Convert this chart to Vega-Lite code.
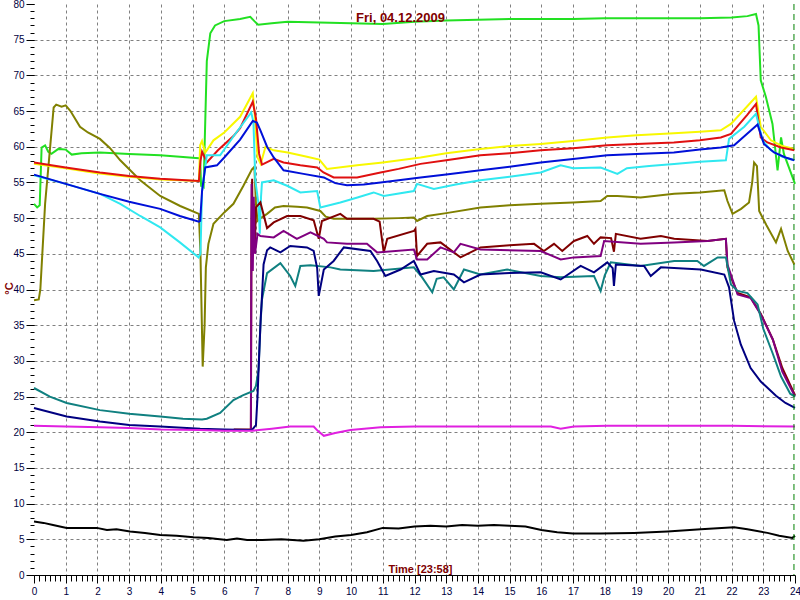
{
"$schema": "https://vega.github.io/schema/vega-lite/v6.json",
"width": 761, "height": 571,
"autosize": "none",
"padding": {"left": 34, "top": 4, "right": 5, "bottom": 25},
"background": "white",
"config": {"view": {"stroke": null}, "axis": {"labelFont": "Liberation Sans", "titleFont": "Liberation Sans"}},
"title": {"text": "Fri, 04.12.2009", "color": "#800000", "font": "Liberation Sans", "fontSize": 13, "fontWeight": "bold", "anchor": "middle", "frame": "group", "offset": -18, "baseline": "alphabetic", "dx": -14, "dy": 18},
"datasets": {"temps": [
{"s":"green","t":0,"v":52.0},{"s":"green","t":0.1,"v":51.5},{"s":"green","t":0.18,"v":51.8},{"s":"green","t":0.24,"v":59.9},{"s":"green","t":0.35,"v":60.2},{"s":"green","t":0.45,"v":59.3},{"s":"green","t":0.55,"v":59.0},{"s":"green","t":0.77,"v":59.7},{"s":"green","t":1.0,"v":59.6},{"s":"green","t":1.19,"v":58.9},{"s":"green","t":1.5,"v":59.1},{"s":"green","t":2.08,"v":59.2},{"s":"green","t":3.0,"v":59.0},{"s":"green","t":3.98,"v":58.8},{"s":"green","t":4.6,"v":58.6},{"s":"green","t":5.2,"v":58.4},{"s":"green","t":5.24,"v":58.3},{"s":"green","t":5.27,"v":54.5},{"s":"green","t":5.35,"v":54.3},{"s":"green","t":5.38,"v":60},{"s":"green","t":5.45,"v":72},{"s":"green","t":5.56,"v":75.9},{"s":"green","t":5.71,"v":77.0},{"s":"green","t":6.0,"v":77.6},{"s":"green","t":6.5,"v":77.9},{"s":"green","t":6.82,"v":78.2},{"s":"green","t":6.95,"v":77.6},{"s":"green","t":7.07,"v":77.1},{"s":"green","t":7.5,"v":77.3},{"s":"green","t":8.0,"v":77.5},{"s":"green","t":9.0,"v":77.4},{"s":"green","t":10.0,"v":77.3},{"s":"green","t":11.0,"v":77.2},{"s":"green","t":12.0,"v":77.5},{"s":"green","t":13.0,"v":77.7},{"s":"green","t":14.0,"v":77.8},{"s":"green","t":15.0,"v":77.9},{"s":"green","t":16.0,"v":77.9},{"s":"green","t":17.0,"v":77.9},{"s":"green","t":18.0,"v":78.0},{"s":"green","t":19.0,"v":78.0},{"s":"green","t":20.0,"v":78.0},{"s":"green","t":21.0,"v":78.0},{"s":"green","t":22.0,"v":78.1},{"s":"green","t":22.5,"v":78.3},{"s":"green","t":22.77,"v":78.6},{"s":"green","t":22.85,"v":77},{"s":"green","t":22.92,"v":69.3},{"s":"green","t":23.08,"v":67},{"s":"green","t":23.29,"v":63.2},{"s":"green","t":23.45,"v":56.7},{"s":"green","t":23.56,"v":61.3},{"s":"green","t":23.65,"v":59},{"s":"green","t":24.0,"v":54.8},
{"s":"olive","t":0,"v":38.5},{"s":"olive","t":0.15,"v":38.6},{"s":"olive","t":0.2,"v":40},{"s":"olive","t":0.35,"v":52},{"s":"olive","t":0.5,"v":59.5},{"s":"olive","t":0.62,"v":65.5},{"s":"olive","t":0.7,"v":65.9},{"s":"olive","t":0.87,"v":65.6},{"s":"olive","t":1.0,"v":65.8},{"s":"olive","t":1.15,"v":65},{"s":"olive","t":1.45,"v":62.8},{"s":"olive","t":1.7,"v":62},{"s":"olive","t":2.08,"v":61.1},{"s":"olive","t":2.4,"v":59.8},{"s":"olive","t":2.72,"v":58.1},{"s":"olive","t":3.35,"v":55.3},{"s":"olive","t":3.98,"v":53.1},{"s":"olive","t":4.61,"v":51.7},{"s":"olive","t":5.2,"v":50.6},{"s":"olive","t":5.25,"v":45},{"s":"olive","t":5.32,"v":29.2},{"s":"olive","t":5.38,"v":35},{"s":"olive","t":5.42,"v":43.1},{"s":"olive","t":5.5,"v":46.4},{"s":"olive","t":5.66,"v":49.2},{"s":"olive","t":6.0,"v":50.8},{"s":"olive","t":6.29,"v":52.0},{"s":"olive","t":6.6,"v":54.5},{"s":"olive","t":6.87,"v":56.8},{"s":"olive","t":6.95,"v":57.2},{"s":"olive","t":7.0,"v":52},{"s":"olive","t":7.05,"v":49.6},{"s":"olive","t":7.15,"v":50},{"s":"olive","t":7.35,"v":50.6},{"s":"olive","t":7.6,"v":51.5},{"s":"olive","t":7.87,"v":51.7},{"s":"olive","t":8.3,"v":51.6},{"s":"olive","t":8.61,"v":51.5},{"s":"olive","t":9.03,"v":51.0},{"s":"olive","t":9.2,"v":50.2},{"s":"olive","t":9.45,"v":49.9},{"s":"olive","t":10.0,"v":49.9},{"s":"olive","t":10.71,"v":49.9},{"s":"olive","t":11.5,"v":50.0},{"s":"olive","t":11.98,"v":50.1},{"s":"olive","t":12.08,"v":49.6},{"s":"olive","t":12.4,"v":50.3},{"s":"olive","t":13.0,"v":50.7},{"s":"olive","t":14.08,"v":51.5},{"s":"olive","t":15.0,"v":51.8},{"s":"olive","t":15.98,"v":52.0},{"s":"olive","t":17.0,"v":52.2},{"s":"olive","t":17.87,"v":52.4},{"s":"olive","t":18.08,"v":53.1},{"s":"olive","t":18.4,"v":53.1},{"s":"olive","t":19.13,"v":52.9},{"s":"olive","t":20.19,"v":53.4},{"s":"olive","t":21.0,"v":53.6},{"s":"olive","t":21.77,"v":53.9},{"s":"olive","t":21.87,"v":52.4},{"s":"olive","t":22.03,"v":50.6},{"s":"olive","t":22.3,"v":51.3},{"s":"olive","t":22.55,"v":52.2},{"s":"olive","t":22.65,"v":55},{"s":"olive","t":22.71,"v":57.8},{"s":"olive","t":22.8,"v":57.3},{"s":"olive","t":22.87,"v":51.0},{"s":"olive","t":23.1,"v":49},{"s":"olive","t":23.4,"v":46.6},{"s":"olive","t":23.56,"v":48.5},{"s":"olive","t":23.77,"v":45.4},{"s":"olive","t":23.98,"v":43.5},
{"s":"yellow","t":0,"v":57.6},{"s":"yellow","t":1,"v":57.0},{"s":"yellow","t":2,"v":56.3},{"s":"yellow","t":3,"v":55.8},{"s":"yellow","t":4,"v":55.4},{"s":"yellow","t":5.2,"v":55.2},{"s":"yellow","t":5.24,"v":60.2},{"s":"yellow","t":5.3,"v":60.8},{"s":"yellow","t":5.4,"v":59.2},{"s":"yellow","t":5.45,"v":59.5},{"s":"yellow","t":5.66,"v":60.9},{"s":"yellow","t":6.0,"v":62.0},{"s":"yellow","t":6.5,"v":64.2},{"s":"yellow","t":6.9,"v":67.5},{"s":"yellow","t":6.97,"v":64},{"s":"yellow","t":7.05,"v":58.5},{"s":"yellow","t":7.15,"v":57.6},{"s":"yellow","t":7.3,"v":60},{"s":"yellow","t":7.56,"v":59.5},{"s":"yellow","t":8.0,"v":59.2},{"s":"yellow","t":8.61,"v":58.6},{"s":"yellow","t":9.0,"v":58.2},{"s":"yellow","t":9.24,"v":56.9},{"s":"yellow","t":10.19,"v":57.4},{"s":"yellow","t":11.0,"v":57.8},{"s":"yellow","t":12.19,"v":58.5},{"s":"yellow","t":13.0,"v":59.1},{"s":"yellow","t":14.08,"v":59.7},{"s":"yellow","t":15.0,"v":60.1},{"s":"yellow","t":15.98,"v":60.4},{"s":"yellow","t":17.0,"v":60.8},{"s":"yellow","t":18.08,"v":61.3},{"s":"yellow","t":19.0,"v":61.6},{"s":"yellow","t":20.18,"v":61.9},{"s":"yellow","t":21.0,"v":62.1},{"s":"yellow","t":21.66,"v":62.3},{"s":"yellow","t":21.98,"v":63.2},{"s":"yellow","t":22.77,"v":67.0},{"s":"yellow","t":22.92,"v":62.8},{"s":"yellow","t":23.24,"v":60.9},{"s":"yellow","t":23.6,"v":60.1},{"s":"yellow","t":23.98,"v":59.7},
{"s":"red","t":0,"v":57.8},{"s":"red","t":1,"v":57.1},{"s":"red","t":2.08,"v":56.4},{"s":"red","t":3,"v":55.9},{"s":"red","t":3.98,"v":55.5},{"s":"red","t":5.2,"v":55.2},{"s":"red","t":5.25,"v":58},{"s":"red","t":5.3,"v":59.3},{"s":"red","t":5.38,"v":58.5},{"s":"red","t":5.45,"v":57.8},{"s":"red","t":5.8,"v":59.5},{"s":"red","t":6.29,"v":61.5},{"s":"red","t":6.5,"v":62.6},{"s":"red","t":6.9,"v":66.3},{"s":"red","t":7.0,"v":64},{"s":"red","t":7.1,"v":59},{"s":"red","t":7.19,"v":57.5},{"s":"red","t":7.24,"v":57.6},{"s":"red","t":7.56,"v":58.3},{"s":"red","t":7.87,"v":57.8},{"s":"red","t":8.4,"v":57.4},{"s":"red","t":8.93,"v":57.1},{"s":"red","t":9.13,"v":56.4},{"s":"red","t":9.45,"v":55.7},{"s":"red","t":10.19,"v":55.7},{"s":"red","t":10.93,"v":56.4},{"s":"red","t":11.5,"v":56.9},{"s":"red","t":12.19,"v":57.6},{"s":"red","t":13.0,"v":58.1},{"s":"red","t":14.08,"v":58.8},{"s":"red","t":15.0,"v":59.1},{"s":"red","t":15.98,"v":59.5},{"s":"red","t":17.0,"v":59.8},{"s":"red","t":18.08,"v":60.2},{"s":"red","t":19.0,"v":60.4},{"s":"red","t":20.18,"v":60.6},{"s":"red","t":21.0,"v":60.9},{"s":"red","t":21.66,"v":61.3},{"s":"red","t":21.98,"v":61.8},{"s":"red","t":22.5,"v":64.5},{"s":"red","t":22.77,"v":66.0},{"s":"red","t":22.92,"v":61.3},{"s":"red","t":23.13,"v":60.6},{"s":"red","t":23.56,"v":59.9},{"s":"red","t":23.98,"v":59.5},
{"s":"cyan","t":0,"v":56.0},{"s":"cyan","t":1,"v":54.8},{"s":"cyan","t":2.08,"v":53.4},{"s":"cyan","t":2.72,"v":52.0},{"s":"cyan","t":3.35,"v":50.3},{"s":"cyan","t":3.98,"v":48.7},{"s":"cyan","t":4.6,"v":46.6},{"s":"cyan","t":5.19,"v":44.5},{"s":"cyan","t":5.25,"v":45},{"s":"cyan","t":5.3,"v":53.8},{"s":"cyan","t":5.45,"v":58.8},{"s":"cyan","t":5.87,"v":58.8},{"s":"cyan","t":6.3,"v":61.5},{"s":"cyan","t":6.85,"v":64.8},{"s":"cyan","t":6.92,"v":63.5},{"s":"cyan","t":6.98,"v":55.3},{"s":"cyan","t":7.08,"v":52},{"s":"cyan","t":7.12,"v":47.8},{"s":"cyan","t":7.16,"v":53},{"s":"cyan","t":7.19,"v":55.0},{"s":"cyan","t":7.56,"v":55.3},{"s":"cyan","t":8.0,"v":54.5},{"s":"cyan","t":8.4,"v":53.6},{"s":"cyan","t":8.93,"v":53.8},{"s":"cyan","t":9.03,"v":51.5},{"s":"cyan","t":9.66,"v":52.2},{"s":"cyan","t":10.2,"v":52.9},{"s":"cyan","t":10.71,"v":53.6},{"s":"cyan","t":11.03,"v":53.1},{"s":"cyan","t":11.98,"v":53.8},{"s":"cyan","t":12.08,"v":54.8},{"s":"cyan","t":12.61,"v":54.1},{"s":"cyan","t":13.3,"v":54.7},{"s":"cyan","t":14.08,"v":55.3},{"s":"cyan","t":15.0,"v":55.8},{"s":"cyan","t":15.98,"v":56.4},{"s":"cyan","t":16.61,"v":57.4},{"s":"cyan","t":17.0,"v":57.0},{"s":"cyan","t":17.87,"v":57.1},{"s":"cyan","t":18.4,"v":56.2},{"s":"cyan","t":18.7,"v":57},{"s":"cyan","t":19.4,"v":57.3},{"s":"cyan","t":20.19,"v":57.6},{"s":"cyan","t":21.0,"v":57.9},{"s":"cyan","t":21.82,"v":58.1},{"s":"cyan","t":21.92,"v":61.1},{"s":"cyan","t":22.4,"v":62.8},{"s":"cyan","t":22.77,"v":64.6},{"s":"cyan","t":22.98,"v":60.9},{"s":"cyan","t":23.24,"v":59.5},{"s":"cyan","t":23.6,"v":58.6},{"s":"cyan","t":23.98,"v":58.1},
{"s":"blue","t":0,"v":56.1},{"s":"blue","t":1,"v":54.8},{"s":"blue","t":2.08,"v":53.4},{"s":"blue","t":3,"v":52.3},{"s":"blue","t":3.98,"v":51.3},{"s":"blue","t":4.6,"v":50.3},{"s":"blue","t":5.2,"v":49.5},{"s":"blue","t":5.24,"v":49.6},{"s":"blue","t":5.3,"v":53.8},{"s":"blue","t":5.4,"v":57.1},{"s":"blue","t":5.77,"v":57.4},{"s":"blue","t":6.0,"v":58.5},{"s":"blue","t":6.5,"v":61},{"s":"blue","t":6.9,"v":63.6},{"s":"blue","t":7.03,"v":63.4},{"s":"blue","t":7.14,"v":62.3},{"s":"blue","t":7.35,"v":60},{"s":"blue","t":7.56,"v":58.5},{"s":"blue","t":7.87,"v":56.7},{"s":"blue","t":8.5,"v":56.2},{"s":"blue","t":9.14,"v":55.7},{"s":"blue","t":9.5,"v":54.9},{"s":"blue","t":9.87,"v":54.6},{"s":"blue","t":10.4,"v":54.7},{"s":"blue","t":10.93,"v":55.0},{"s":"blue","t":11.5,"v":55.3},{"s":"blue","t":12.19,"v":55.7},{"s":"blue","t":13.0,"v":56.1},{"s":"blue","t":14.08,"v":56.7},{"s":"blue","t":15.0,"v":57.2},{"s":"blue","t":15.98,"v":57.8},{"s":"blue","t":17.0,"v":58.3},{"s":"blue","t":18.08,"v":58.8},{"s":"blue","t":19.0,"v":59.0},{"s":"blue","t":20.18,"v":59.2},{"s":"blue","t":21.0,"v":59.6},{"s":"blue","t":21.66,"v":59.9},{"s":"blue","t":22.08,"v":60.2},{"s":"blue","t":22.82,"v":63.1},{"s":"blue","t":23.02,"v":60.4},{"s":"blue","t":23.34,"v":59.2},{"s":"blue","t":23.7,"v":58.5},{"s":"blue","t":23.98,"v":58.1},
{"s":"maroon","t":6.3,"v":20.4},{"s":"maroon","t":6.84,"v":20.4},{"s":"maroon","t":6.86,"v":50},{"s":"maroon","t":6.88,"v":55.5},{"s":"maroon","t":6.9,"v":45.4},{"s":"maroon","t":6.93,"v":52},{"s":"maroon","t":6.96,"v":45.5},{"s":"maroon","t":7.0,"v":51.5},{"s":"maroon","t":7.14,"v":52.2},{"s":"maroon","t":7.35,"v":48.6},{"s":"maroon","t":7.56,"v":49.4},{"s":"maroon","t":7.98,"v":50.3},{"s":"maroon","t":8.4,"v":50.3},{"s":"maroon","t":8.82,"v":49.7},{"s":"maroon","t":8.98,"v":47.1},{"s":"maroon","t":9.08,"v":49.6},{"s":"maroon","t":9.66,"v":50.6},{"s":"maroon","t":9.87,"v":49.9},{"s":"maroon","t":10.71,"v":49.9},{"s":"maroon","t":10.9,"v":49.5},{"s":"maroon","t":11.03,"v":45.2},{"s":"maroon","t":11.14,"v":47.1},{"s":"maroon","t":11.98,"v":48.2},{"s":"maroon","t":12.03,"v":48.5},{"s":"maroon","t":12.08,"v":44.7},{"s":"maroon","t":12.4,"v":46.4},{"s":"maroon","t":12.82,"v":46.6},{"s":"maroon","t":13.45,"v":44.5},{"s":"maroon","t":14.08,"v":45.9},{"s":"maroon","t":15.0,"v":46.2},{"s":"maroon","t":15.77,"v":46.4},{"s":"maroon","t":16.08,"v":45.4},{"s":"maroon","t":16.4,"v":46.4},{"s":"maroon","t":16.66,"v":45.4},{"s":"maroon","t":17.03,"v":46.8},{"s":"maroon","t":17.45,"v":47.5},{"s":"maroon","t":17.66,"v":46.4},{"s":"maroon","t":17.87,"v":47.3},{"s":"maroon","t":18.2,"v":47.2},{"s":"maroon","t":18.29,"v":45.3},{"s":"maroon","t":18.35,"v":47.8},{"s":"maroon","t":19.13,"v":47.1},{"s":"maroon","t":19.77,"v":47.5},{"s":"maroon","t":20.19,"v":47.1},{"s":"maroon","t":21.24,"v":46.8},{"s":"maroon","t":21.82,"v":47.1},{"s":"maroon","t":21.87,"v":43.1},{"s":"maroon","t":21.98,"v":41.7},{"s":"maroon","t":22.19,"v":39.5},{"s":"maroon","t":22.6,"v":38.9},{"s":"maroon","t":22.92,"v":36.6},{"s":"maroon","t":23.3,"v":33},{"s":"maroon","t":23.6,"v":29},{"s":"maroon","t":24.0,"v":25.2},
{"s":"purple","t":6.84,"v":20.4},{"s":"purple","t":6.86,"v":54.8},{"s":"purple","t":6.9,"v":42.6},{"s":"purple","t":6.93,"v":53},{"s":"purple","t":6.97,"v":45},{"s":"purple","t":7.05,"v":47.8},{"s":"purple","t":7.14,"v":47.5},{"s":"purple","t":7.56,"v":47.3},{"s":"purple","t":7.87,"v":48.2},{"s":"purple","t":8.29,"v":47.1},{"s":"purple","t":8.72,"v":48.0},{"s":"purple","t":9.14,"v":47.1},{"s":"purple","t":9.24,"v":46.6},{"s":"purple","t":9.87,"v":46.4},{"s":"purple","t":10.5,"v":46.4},{"s":"purple","t":10.82,"v":45.2},{"s":"purple","t":11.98,"v":45.6},{"s":"purple","t":12.08,"v":44.2},{"s":"purple","t":12.4,"v":44.2},{"s":"purple","t":12.82,"v":45.9},{"s":"purple","t":13.24,"v":45.2},{"s":"purple","t":13.45,"v":46.4},{"s":"purple","t":14.08,"v":45.6},{"s":"purple","t":15.98,"v":45.4},{"s":"purple","t":16.61,"v":44.2},{"s":"purple","t":17.03,"v":44.5},{"s":"purple","t":17.87,"v":44.7},{"s":"purple","t":17.98,"v":46.8},{"s":"purple","t":19.13,"v":46.4},{"s":"purple","t":20.19,"v":46.6},{"s":"purple","t":21.24,"v":46.8},{"s":"purple","t":21.82,"v":47.1},{"s":"purple","t":21.87,"v":43.5},{"s":"purple","t":22.19,"v":39.3},{"s":"purple","t":22.6,"v":38.8},{"s":"purple","t":22.92,"v":36.5},{"s":"purple","t":23.3,"v":33},{"s":"purple","t":23.6,"v":28.5},{"s":"purple","t":24.0,"v":25},
{"s":"teal","t":0,"v":26.2},{"s":"teal","t":0.5,"v":25.0},{"s":"teal","t":1.03,"v":24.1},{"s":"teal","t":2.08,"v":23.1},{"s":"teal","t":3.0,"v":22.6},{"s":"teal","t":3.98,"v":22.2},{"s":"teal","t":4.7,"v":21.9},{"s":"teal","t":5.3,"v":21.8},{"s":"teal","t":5.45,"v":21.9},{"s":"teal","t":5.87,"v":22.7},{"s":"teal","t":6.29,"v":24.5},{"s":"teal","t":6.6,"v":25.2},{"s":"teal","t":6.92,"v":25.8},{"s":"teal","t":7.0,"v":26.5},{"s":"teal","t":7.08,"v":28.7},{"s":"teal","t":7.14,"v":35},{"s":"teal","t":7.19,"v":38.6},{"s":"teal","t":7.35,"v":42.3},{"s":"teal","t":7.77,"v":43.7},{"s":"teal","t":8.08,"v":41.9},{"s":"teal","t":8.24,"v":40.5},{"s":"teal","t":8.4,"v":43.3},{"s":"teal","t":8.72,"v":43.4},{"s":"teal","t":9.35,"v":43.1},{"s":"teal","t":9.66,"v":42.8},{"s":"teal","t":10.71,"v":42.6},{"s":"teal","t":11.98,"v":43.1},{"s":"teal","t":12.24,"v":41.7},{"s":"teal","t":12.56,"v":39.6},{"s":"teal","t":12.7,"v":41.5},{"s":"teal","t":12.92,"v":41.7},{"s":"teal","t":13.24,"v":40.0},{"s":"teal","t":13.56,"v":42.8},{"s":"teal","t":14.08,"v":42.1},{"s":"teal","t":14.92,"v":42.8},{"s":"teal","t":15.98,"v":41.9},{"s":"teal","t":16.61,"v":41.7},{"s":"teal","t":17.66,"v":41.9},{"s":"teal","t":17.87,"v":39.8},{"s":"teal","t":18.0,"v":42},{"s":"teal","t":18.19,"v":43.8},{"s":"teal","t":19.13,"v":43.3},{"s":"teal","t":20.19,"v":44.0},{"s":"teal","t":20.92,"v":44.0},{"s":"teal","t":21.13,"v":43.3},{"s":"teal","t":21.56,"v":44.5},{"s":"teal","t":21.82,"v":44.5},{"s":"teal","t":21.98,"v":40.7},{"s":"teal","t":22.19,"v":39.8},{"s":"teal","t":22.5,"v":39.5},{"s":"teal","t":22.82,"v":37.9},{"s":"teal","t":23.0,"v":34.5},{"s":"teal","t":23.3,"v":31},{"s":"teal","t":23.56,"v":27.8},{"s":"teal","t":23.85,"v":25.4},{"s":"teal","t":24.0,"v":25.0},
{"s":"navy","t":0,"v":23.4},{"s":"navy","t":1.03,"v":22.2},{"s":"navy","t":2.08,"v":21.5},{"s":"navy","t":3.0,"v":21.0},{"s":"navy","t":3.98,"v":20.8},{"s":"navy","t":5.24,"v":20.5},{"s":"navy","t":6.0,"v":20.4},{"s":"navy","t":6.87,"v":20.3},{"s":"navy","t":7.0,"v":21},{"s":"navy","t":7.05,"v":25},{"s":"navy","t":7.08,"v":28.5},{"s":"navy","t":7.15,"v":36},{"s":"navy","t":7.19,"v":39},{"s":"navy","t":7.24,"v":43.5},{"s":"navy","t":7.35,"v":45.5},{"s":"navy","t":7.45,"v":45.9},{"s":"navy","t":7.77,"v":45.2},{"s":"navy","t":8.08,"v":46.1},{"s":"navy","t":8.61,"v":45.9},{"s":"navy","t":8.82,"v":45.4},{"s":"navy","t":8.93,"v":43},{"s":"navy","t":8.98,"v":39.1},{"s":"navy","t":9.14,"v":42.8},{"s":"navy","t":9.45,"v":44.0},{"s":"navy","t":9.77,"v":45.9},{"s":"navy","t":10.61,"v":45.4},{"s":"navy","t":10.82,"v":44.0},{"s":"navy","t":11.08,"v":41.9},{"s":"navy","t":11.56,"v":42.8},{"s":"navy","t":11.98,"v":44.0},{"s":"navy","t":12.19,"v":42.1},{"s":"navy","t":12.61,"v":42.6},{"s":"navy","t":13.24,"v":42.1},{"s":"navy","t":13.56,"v":41.0},{"s":"navy","t":14.08,"v":42.1},{"s":"navy","t":15.0,"v":42.3},{"s":"navy","t":15.98,"v":42.4},{"s":"navy","t":16.61,"v":41.4},{"s":"navy","t":17.24,"v":43.3},{"s":"navy","t":17.66,"v":42.4},{"s":"navy","t":18.08,"v":43.8},{"s":"navy","t":18.25,"v":43},{"s":"navy","t":18.29,"v":40.5},{"s":"navy","t":18.35,"v":43.5},{"s":"navy","t":19.24,"v":43.3},{"s":"navy","t":19.45,"v":41.9},{"s":"navy","t":19.77,"v":43.1},{"s":"navy","t":21.03,"v":42.8},{"s":"navy","t":21.77,"v":42.1},{"s":"navy","t":21.92,"v":40.3},{"s":"navy","t":22.08,"v":35.6},{"s":"navy","t":22.29,"v":32.3},{"s":"navy","t":22.6,"v":29.0},{"s":"navy","t":22.92,"v":27.1},{"s":"navy","t":23.4,"v":25.1},{"s":"navy","t":23.7,"v":24.1},{"s":"navy","t":24.0,"v":23.4},
{"s":"magenta","t":0,"v":20.9},{"s":"magenta","t":1,"v":20.8},{"s":"magenta","t":2.08,"v":20.7},{"s":"magenta","t":3,"v":20.6},{"s":"magenta","t":4,"v":20.4},{"s":"magenta","t":5.24,"v":20.3},{"s":"magenta","t":6.0,"v":20.2},{"s":"magenta","t":6.87,"v":20.2},{"s":"magenta","t":7.5,"v":20.5},{"s":"magenta","t":8.08,"v":20.8},{"s":"magenta","t":8.82,"v":20.8},{"s":"magenta","t":8.95,"v":20.2},{"s":"magenta","t":9.14,"v":19.5},{"s":"magenta","t":9.5,"v":19.9},{"s":"magenta","t":9.98,"v":20.3},{"s":"magenta","t":10.93,"v":20.7},{"s":"magenta","t":12,"v":20.8},{"s":"magenta","t":14.08,"v":20.8},{"s":"magenta","t":16.3,"v":20.8},{"s":"magenta","t":16.61,"v":20.5},{"s":"magenta","t":17.03,"v":20.8},{"s":"magenta","t":18.08,"v":20.9},{"s":"magenta","t":20,"v":20.9},{"s":"magenta","t":22,"v":20.9},{"s":"magenta","t":24,"v":20.8},
{"s":"black","t":0,"v":7.5},{"s":"black","t":0.3,"v":7.3},{"s":"black","t":0.6,"v":7.0},{"s":"black","t":1.03,"v":6.6},{"s":"black","t":1.5,"v":6.6},{"s":"black","t":1.98,"v":6.6},{"s":"black","t":2.3,"v":6.3},{"s":"black","t":2.6,"v":6.4},{"s":"black","t":3.03,"v":6.1},{"s":"black","t":3.5,"v":5.9},{"s":"black","t":3.98,"v":5.6},{"s":"black","t":4.5,"v":5.5},{"s":"black","t":5.03,"v":5.3},{"s":"black","t":5.5,"v":5.2},{"s":"black","t":6.08,"v":4.9},{"s":"black","t":6.4,"v":5.1},{"s":"black","t":6.72,"v":4.9},{"s":"black","t":7.2,"v":4.9},{"s":"black","t":7.8,"v":5.0},{"s":"black","t":8.5,"v":4.8},{"s":"black","t":9.0,"v":5.0},{"s":"black","t":9.5,"v":5.4},{"s":"black","t":10.0,"v":5.6},{"s":"black","t":10.5,"v":6.0},{"s":"black","t":11.0,"v":6.6},{"s":"black","t":11.5,"v":6.5},{"s":"black","t":12.0,"v":6.8},{"s":"black","t":12.5,"v":6.9},{"s":"black","t":13.0,"v":6.8},{"s":"black","t":13.5,"v":7.0},{"s":"black","t":14.0,"v":6.9},{"s":"black","t":14.5,"v":7.0},{"s":"black","t":15.0,"v":6.9},{"s":"black","t":15.5,"v":6.8},{"s":"black","t":16.0,"v":6.3},{"s":"black","t":16.5,"v":6.0},{"s":"black","t":17.0,"v":5.8},{"s":"black","t":17.87,"v":5.8},{"s":"black","t":18.92,"v":5.9},{"s":"black","t":19.98,"v":6.1},{"s":"black","t":21.03,"v":6.4},{"s":"black","t":22.08,"v":6.7},{"s":"black","t":22.5,"v":6.4},{"s":"black","t":23.13,"v":5.9},{"s":"black","t":23.5,"v":5.5},{"s":"black","t":23.92,"v":5.2},{"s":"black","t":24.0,"v":5.5}
]},
"layer": [
{"data": {"name": "temps"}, "mark": {"type": "line", "opacity": 0},
 "encoding": {
  "x": {"field": "t", "type": "quantitative", "scale": {"domain": [0, 24], "nice": false, "zero": false},
        "axis": {"orient": "bottom", "values": [1,2,3,4,5,6,7,8,9,10,11,12,13,14,15,16,17,18,19,20,21,22,23], "grid": true, "gridColor": "#808080", "gridDash": [3, 3], "gridOpacity": 1, "ticks": false, "labels": false, "domain": false, "title": null}},
  "y": {"field": "v", "type": "quantitative", "scale": {"domain": [0, 80], "nice": false, "zero": false},
        "axis": {"orient": "left", "values": [5,10,15,20,25,30,35,40,45,50,55,60,65,70,75], "grid": true, "gridColor": "#808080", "gridDash": [3, 3], "gridOpacity": 1, "ticks": false, "labels": false, "domain": false, "title": null}},
  "detail": {"field": "s"}}},
{"data": {"name": "temps"}, "mark": {"type": "line", "opacity": 0},
 "encoding": {
  "x": {"field": "t", "type": "quantitative",
        "axis": {"orient": "bottom", "values": [0.167,0.333,0.5,0.667,0.833,1.167,1.333,1.5,1.667,1.833,2.167,2.333,2.5,2.667,2.833,3.167,3.333,3.5,3.667,3.833,4.167,4.333,4.5,4.667,4.833,5.167,5.333,5.5,5.667,5.833,6.167,6.333,6.5,6.667,6.833,7.167,7.333,7.5,7.667,7.833,8.167,8.333,8.5,8.667,8.833,9.167,9.333,9.5,9.667,9.833,10.167,10.333,10.5,10.667,10.833,11.167,11.333,11.5,11.667,11.833,12.167,12.333,12.5,12.667,12.833,13.167,13.333,13.5,13.667,13.833,14.167,14.333,14.5,14.667,14.833,15.167,15.333,15.5,15.667,15.833,16.167,16.333,16.5,16.667,16.833,17.167,17.333,17.5,17.667,17.833,18.167,18.333,18.5,18.667,18.833,19.167,19.333,19.5,19.667,19.833,20.167,20.333,20.5,20.667,20.833,21.167,21.333,21.5,21.667,21.833,22.167,22.333,22.5,22.667,22.833,23.167,23.333,23.5,23.667,23.833], "grid": false, "tickSize": 6, "tickColor": "#000000", "labels": false, "domain": false, "title": null}},
  "y": {"field": "v", "type": "quantitative",
        "axis": {"orient": "left", "tickCount": 80, "grid": false, "tickSize": 4, "tickColor": "#000000", "labels": false, "domain": false, "title": null}},
  "detail": {"field": "s"}}},
{"data": {"name": "temps"}, "mark": {"type": "line", "strokeWidth": 2, "interpolate": "linear"},
 "encoding": {
  "x": {"field": "t", "type": "quantitative",
        "axis": {"orient": "bottom", "values": [0,1,2,3,4,5,6,7,8,9,10,11,12,13,14,15,16,17,18,19,20,21,22,23,24], "format": "d", "grid": false, "tickSize": 8, "tickColor": "#000000", "domain": true, "domainColor": "#000000", "labelColor": "#000040", "labelFontSize": 10, "labelPadding": 3, "labelFlush": false, "labelOverlap": false,
                 "title": "Time [23:58]", "titleColor": "#800000", "titleFontSize": 11, "titleFontWeight": "bold", "titleX": 386, "titleY": -3, "titleAlign": "center", "titleBaseline": "alphabetic"}},
  "y": {"field": "v", "type": "quantitative",
        "axis": {"orient": "left", "values": [0,5,10,15,20,25,30,35,40,45,50,55,60,65,70,75,80], "format": "d", "grid": false, "tickSize": 8, "tickColor": "#000000", "domain": false, "labelColor": "#000040", "labelFontSize": 10, "labelPadding": 2, "labelFlush": false, "labelOverlap": false,
                 "title": "°C", "titleColor": "#800000", "titleFontSize": 11, "titleFontWeight": "bold", "titleX": -25, "titleY": 284, "titleAngle": -90, "titleAlign": "center", "titleBaseline": "middle"}},
  "color": {"field": "s", "type": "nominal", "legend": null,
            "scale": {"domain": ["green","olive","yellow","red","cyan","blue","maroon","purple","teal","navy","magenta","black"],
                      "range": ["#22e022","#808000","#f8f800","#e01010","#30e8f0","#0010d8","#800000","#800080","#108080","#000080","#e020e0","#000000"]}}}},
{"data": {"values": [{"t": 23.967}]}, "mark": {"type": "rule", "color": "#008000", "strokeDash": [6, 4], "strokeWidth": 1},
 "encoding": {"x": {"field": "t", "type": "quantitative", "axis": null}}}
],
"resolve": {"axis": {"x": "independent", "y": "independent"}}
}
